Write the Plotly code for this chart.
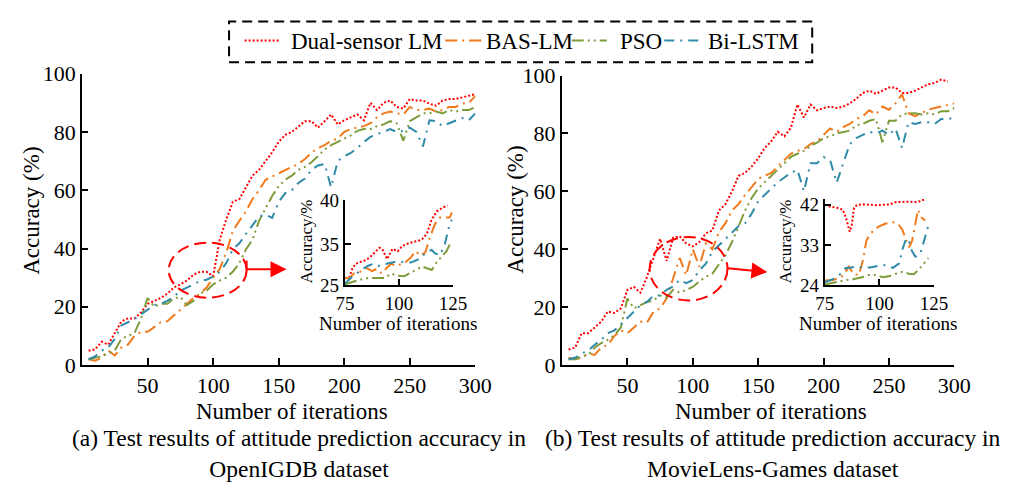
import plotly.graph_objects as go

# ---------------- data ----------------
iters = list(range(5, 301, 5))

# (a) OpenIGDB main panel
a_dual = [4.9, 5.4, 8, 7, 11, 15, 16, 16, 18, 21,
          22, 23, 24.5, 26.6, 27.7, 29, 31, 32, 32, 30.5,
          43, 50, 56, 57, 61, 65, 67, 70, 73, 76.6,
          79, 80, 82, 83.7, 83.7, 81.5, 83.7, 86, 82.6, 84,
          85, 86, 84, 90, 87.5, 90, 90.8, 88.6, 88, 91.3,
          90.8, 90.8, 89.7, 89, 90.8, 91.3, 91.3, 91.8, 92.4, 93]
a_bas = [2, 1.5, 2.5, 5, 3.3, 6, 7, 10, 11.4, 11.4,
         13, 14.7, 15, 17, 19, 21, 23, 24.5, 26.6, 30,
         33, 38.6, 46, 49.5, 52.7, 57, 60, 63.6, 64.7, 66,
         67, 68, 69, 70.7, 72.8, 74.5, 75.5, 77, 77.7, 80,
         81, 81.5, 82, 83, 85, 86.4, 87, 86.4, 86, 88.6,
         87.5, 87.5, 88, 87, 87.5, 88.6, 88.6, 89.7, 90, 92.4]
a_pso = [2, 2.5, 3, 4, 5, 9, 10, 11, 16, 23,
         20, 21, 21, 22.8, 23.4, 20.6, 22, 24.5, 25.5, 27.7,
         29, 30, 32, 35, 39.7, 43, 49.5, 53.8, 58, 61.4,
         63.6, 65, 67, 68, 69.6, 71.7, 74, 75.5, 76.6, 77.7,
         78.8, 80.4, 81, 81, 82, 82.6, 83.7, 83, 77, 83.7,
         85, 86.4, 86.4, 87, 86.4, 87.5, 87, 87.5, 87.5, 88.6]
a_lstm = [2, 3, 5, 6, 9, 13.6, 14.7, 15.8, 17.4, 19,
          20.6, 21, 22, 23.4, 25.5, 26.6, 27.7, 28.8, 29.3, 30.4,
          32, 35, 39.7, 41.8, 45, 48, 51, 51.6, 50.5, 56,
          59, 60, 62.5, 64, 67, 68.5, 69, 61, 70, 71.7,
          72.8, 74.5, 76.6, 78.3, 79.3, 80, 81, 80, 80.4, 81.5,
          80, 75, 84, 83.7, 82, 83, 84, 84.8, 84, 86.4]

# (b) MovieLens-Games main panel
b_dual = [5.4, 6, 11, 11, 13, 15, 18.5, 18, 19.6, 26,
          27, 25, 30.5, 37, 43.6, 36, 44, 44.5, 42, 41,
          42.5, 45.5, 46.5, 53.4, 55.6, 60, 65.4, 66.4, 68.6, 71.4,
          75, 77.3, 80.6, 79, 82, 90, 85.5, 90, 88, 88.8,
          89.3, 88.8, 89.3, 90.4, 92, 94, 94.8, 93.7, 94.8, 95.9,
          95.9, 94, 94, 94.8, 95.9, 97, 97.5, 98.6, 98, None]
b_bas = [2.5, 2, 2.5, 4, 3.5, 6, 7, 10, 12, 11,
         13, 15, 14.7, 18.5, 19.6, 23, 30, 37, 31, 40,
         34, 42, 40, 46, 49, 53.4, 55.6, 58.8, 61.5, 64.3,
         65.4, 66.4, 68.6, 70.8, 73, 74, 74.6, 76.3, 77.3, 79.5,
         81.7, 80.6, 82.2, 83.3, 85, 86, 88, 86.6, 89.3, 88.2,
         90.4, 93.5, 87, 86, 87, 88.2, 88.8, 89.3, 90, 90.4]
b_pso = [2, 2, 3, 3.5, 6, 7.6, 8.7, 10.3, 13, 23,
         19.6, 20.7, 21.8, 22.3, 24, 23.4, 26, 25, 26, 27,
         28.9, 30.5, 31.6, 35, 38, 42.5, 48, 53.4, 57.7, 61,
         63.2, 65.4, 67.5, 69.7, 71.9, 73, 74, 75.7, 76.8, 78.4,
         79, 80, 80.6, 81, 82.8, 83.3, 84.4, 85, 77, 84.4,
         84.4, 86.6, 87, 87, 86.6, 87, 86.6, 87.7, 87.7, 88.8]
b_lstm = [2, 2.5, 4, 5, 7, 8.7, 11, 12, 14, 16.3,
          18.5, 20.7, 21.8, 24, 24, 26, 27.2, 29.4, 28.3, 29.4,
          32.7, 35, 39.2, 41.4, 43.6, 45.8, 48, 49, 52.3, 56.6,
          58.8, 61, 63.2, 64.8, 66.4, 67.5, 60, 69.7, 69.7, 71.9,
          70.8, 63, 69.7, 76.3, 78.4, 79.5, 80.6, 80, 81, 79.5,
          81.7, 75, 83.9, 83.3, 83.9, 83.9, 83.3, 85, 85, 85.5]

# (a) inset, iterations 75-125
ia_dual_x = [75, 77, 78.5, 80, 82, 84.5, 86.5, 89, 91, 92.5, 94.5, 97, 99.5,
             101.5, 104.5, 107.5, 110.5, 113, 115, 117.5, 120.5, 122.5]
ia_dual_y = [26.3, 26.4, 28, 28.8, 29.1, 29.4, 29.9, 30.9, 31.6, 31.2, 29.6, 31.4,
             31.0, 31.9, 32.4, 32.7, 33.0, 34.1, 36.4, 38.0, 38.7, 39.0]
ia_bas_x = [75, 77, 79.2, 82.2, 85.2, 87.5, 89.7, 92, 94.2, 96.5, 98.7, 101, 103.2,
            105.5, 107.7, 110, 112.2, 114.5, 116.7, 119, 121.2, 123.5, 124.5]
ia_bas_y = [26.3, 26.2, 27.1, 27.4, 28.0, 27.5, 27.9, 27.1, 28.0, 28.8, 28.4, 28.8,
            29.1, 29.9, 31.0, 30.2, 30.8, 33.6, 35.8, 36.9, 36.9, 36.9, 37.8]
ia_pso_x = [75, 78.5, 82.2, 86, 89.7, 93.5, 96.5, 98.7, 102.5, 106.2, 110.7, 113,
            115.2, 117.5, 122, 124.2]
ia_pso_y = [25.2, 25.6, 26.0, 26.3, 26.3, 26.3, 27.1, 26.7, 26.6, 27.4, 28.3, 28.0,
            27.7, 29.1, 31.0, 32.7]
ia_lstm_x = [75, 77.7, 81.5, 85.5, 88.2, 90.5, 94.2, 98, 101.7, 105.5, 109.2, 113,
             115.2, 116.7, 119, 121.2, 123.5, 124.5]
ia_lstm_y = [25.3, 26.3, 27.4, 28.4, 28.8, 28.4, 28.8, 29.1, 29.1, 29.0, 29.6, 30.9,
             31.2, 30.6, 30.3, 32.2, 35.8, 36.5]

# (b) inset, iterations 75-125
ib_dual_x = [75, 77.2, 80.9, 83.2, 84.6, 85.7, 86.4, 87.3, 88.4, 89.8, 92.8, 95.8,
             98.7, 101.7, 104.7, 107.6, 110.6, 113.6, 116.5, 118.8, 121]
ib_dual_y = [42.0, 41.6, 41.3, 40.9, 39.2, 37.1, 36.0, 37.4, 41.3, 42.0, 42.1, 42.0,
             41.9, 42.0, 42.1, 42.6, 42.7, 42.7, 42.6, 42.8, 43.3]
ib_bas_x = [75, 78.7, 82.4, 84.2, 86.1, 88.1, 90.6, 92.5, 94.0, 95.5, 97.6, 99.9,
            102.9, 106.2, 108.8, 110.6, 112.1, 113.6, 115.0, 116.5, 117.7, 119.2, 121.0]
ib_bas_y = [25.1, 25.2, 25.8, 26.8, 28.2, 26.5, 26.3, 29.7, 33.9, 35.3, 36.4, 37.2,
            37.8, 38.1, 37.6, 36.4, 34.2, 32.5, 33.9, 37.8, 40.9, 39.2, 38.5]
ib_pso_x = [75, 79.5, 83.9, 88.4, 92.1, 95.0, 98.0, 101.7, 104.7, 107.6, 110.6,
            113.6, 115.8, 118.0, 121.0, 122.5]
ib_pso_y = [24.2, 24.7, 25.1, 25.4, 25.8, 26.3, 26.3, 25.8, 26.1, 26.6, 27.0, 26.6,
            26.5, 27.5, 29.3, 30.1]
ib_lstm_x = [75, 78.7, 82.4, 84.6, 86.9, 89.8, 92.8, 95.8, 101.7, 104.0, 106.2,
             109.1, 110.6, 112.1, 113.3, 114.8, 116.5, 118.8, 120.3, 122.5]
ib_lstm_y = [24.7, 25.4, 26.6, 27.9, 28.0, 28.2, 27.9, 28.0, 28.6, 28.2, 27.9, 28.9,
             32.1, 34.2, 34.4, 31.8, 30.4, 31.1, 33.9, 37.4]

series_names = ["Dual-sensor LM", "BAS-LM", "PSO", "Bi-LSTM"]
main_ticks_x = [50, 100, 150, 200, 250, 300]
main_ticks_y = [0, 20, 40, 60, 80, 100]
inset_ticks_x = [75, 100, 125]
ia_tick_pos = [25, 32.2, 40]
ia_tick_text = ["25", "35", "40"]
ib_ticks_y = [24, 33, 42]

# ---------------- styling ----------------
W, H = 1021, 491
FONT = "Liberation Serif, Times New Roman, serif"
colors = ["#FF0000", "#F07A1C", "#7E9C3A", "#2F8BA8"]
dashes = ["2px,2px", "12px,5px,2px,5px", "12px,4px,2px,4px,2px,4px", "10px,6px,2px,6px"]


def fx(p):
    return p / W


def fy(p):
    return 1 - p / H


fig = go.Figure()

panels = [
    ("x", "y", iters, [a_dual, a_bas, a_pso, a_lstm]),
    ("x2", "y2", iters, [b_dual, b_bas, b_pso, b_lstm]),
]
for xa, ya, xs, ys_list in panels:
    for i, ys in enumerate(ys_list):
        fig.add_trace(go.Scatter(x=xs, y=ys, mode="lines", name=series_names[i],
                                 line=dict(color=colors[i], width=2, dash=dashes[i]),
                                 showlegend=False, xaxis=xa, yaxis=ya))

insets = [
    ("x3", "y3", [(ia_dual_x, ia_dual_y), (ia_bas_x, ia_bas_y), (ia_pso_x, ia_pso_y), (ia_lstm_x, ia_lstm_y)]),
    ("x4", "y4", [(ib_dual_x, ib_dual_y), (ib_bas_x, ib_bas_y), (ib_pso_x, ib_pso_y), (ib_lstm_x, ib_lstm_y)]),
]
for xa, ya, pairs in insets:
    for i, (xs, ys) in enumerate(pairs):
        fig.add_trace(go.Scatter(x=xs, y=ys, mode="lines", name=series_names[i],
                                 line=dict(color=colors[i], width=2, dash=dashes[i]),
                                 showlegend=False, xaxis=xa, yaxis=ya))

axis_common = dict(showline=True, linecolor="black", linewidth=2, showgrid=False,
                   zeroline=False, ticks="inside", tickcolor="black", tickwidth=2,
                   fixedrange=True)

fig.update_layout(
    width=W, height=H,
    margin=dict(l=0, r=0, t=0, b=0),
    paper_bgcolor="white", plot_bgcolor="rgba(0,0,0,0)",
    font=dict(family=FONT, color="black"),
    showlegend=False,
    xaxis=dict(domain=[fx(74), fx(478)], range=[0, 300], tickvals=main_ticks_x,
               ticklen=7, tickfont=dict(size=22), anchor="y", **axis_common),
    yaxis=dict(domain=[fy(372), fy(65)], range=[0, 100], tickvals=main_ticks_y,
               ticklen=6, tickfont=dict(size=22), anchor="x", **axis_common),
    xaxis2=dict(domain=[fx(567), fx(970)], range=[0, 300], tickvals=main_ticks_x,
                ticklen=7, tickfont=dict(size=22), anchor="y2", **axis_common),
    yaxis2=dict(domain=[fy(372), fy(67)], range=[0, 100], tickvals=main_ticks_y,
                ticklen=6, tickfont=dict(size=22), anchor="x2", **axis_common),
    xaxis3=dict(domain=[fx(344), fx(455)], range=[75, 125], tickvals=inset_ticks_x,
                ticklen=6, tickfont=dict(size=19), anchor="y3", **axis_common),
    yaxis3=dict(domain=[fy(288), fy(198)], range=[25, 40], tickvals=ia_tick_pos,
                ticktext=ia_tick_text, ticklen=6, tickfont=dict(size=19), anchor="x3",
                **axis_common),
    xaxis4=dict(domain=[fx(837), fx(949)], range=[75, 125], tickvals=inset_ticks_x,
                ticklen=6, tickfont=dict(size=19), anchor="y4", **axis_common),
    yaxis4=dict(domain=[fy(288), fy(197)], range=[24, 43.3], tickvals=ib_ticks_y,
                ticklen=6, tickfont=dict(size=19), anchor="x4", **axis_common),
)

annotations = []


def text(x, y, s, size, angle=0, xanchor="center", yanchor="middle", align="center"):
    annotations.append(dict(x=fx(x), y=fy(y), xref="paper", yref="paper", text=s,
                            showarrow=False, textangle=angle, xanchor=xanchor,
                            yanchor=yanchor, align=align,
                            font=dict(family=FONT, size=size, color="black")))


# axis titles
text(22, 209, "Accuracy (%)", 23, angle=-90)
text(519, 208, "Accuracy (%)", 23, angle=-90)
text(290, 421, "Number of iterations", 23)
text(782, 421, "Number of iterations", 23)
# inset titles
text(305, 242, "Accuracy/%", 17, angle=-90)
text(399, 328, "Number of iterations", 19)
text(797, 242, "Accuracy/%", 17, angle=-90)
text(892, 328, "Number of iterations", 19)
# captions
text(297, 465, "(a) Test results of attitude prediction accuracy in<br>OpenIGDB dataset", 23.5)
text(784, 465, "(b) Test results of attitude prediction accuracy in<br>MovieLens-Games dataset", 23.5)

# legend texts
legend_text_x = [287, 487, 625, 715]
legend_line_x = [(241, 278), (447, 485), (577, 613), (672, 712)]
for i, name in enumerate(series_names):
    text(legend_text_x[i], 31, name, 23, xanchor="left")

# arrows from the zoom ellipses to the insets
annotations.append(dict(x=fx(284), y=fy(271), xref="paper", yref="paper", ax=-41, ay=0,
                        text="", showarrow=True, arrowhead=2, arrowsize=1.6,
                        arrowwidth=2, arrowcolor="red"))
annotations.append(dict(x=fx(778), y=fy(274), xref="paper", yref="paper", ax=-41, ay=-4,
                        text="", showarrow=True, arrowhead=2, arrowsize=1.6,
                        arrowwidth=2, arrowcolor="red"))

shapes = []
# legend box
shapes.append(dict(type="rect", xref="paper", yref="paper", x0=fx(225), x1=fx(824),
                   y0=fy(53), y1=fy(10), line=dict(color="black", width=2, dash="10px,6px")))
for i, (a, b) in enumerate(legend_line_x):
    shapes.append(dict(type="line", xref="paper", yref="paper", x0=fx(a), x1=fx(b),
                       y0=fy(30), y1=fy(30),
                       line=dict(color=colors[i], width=2, dash=dashes[i])))
# zoom ellipses
shapes.append(dict(type="circle", xref="paper", yref="paper", x0=fx(163), x1=fx(243),
                   y0=fy(301), y1=fy(243), line=dict(color="red", width=2, dash="12px,6px")))
shapes.append(dict(type="circle", xref="paper", yref="paper", x0=fx(657), x1=fx(737),
                   y0=fy(304), y1=fy(237), line=dict(color="red", width=2, dash="12px,6px")))
shapes.append(dict(type="line", xref="paper", yref="paper", x0=fx(243), x1=fx(243),
                   y0=fy(262), y1=fy(271), line=dict(color="red", width=2)))

fig.update_layout(annotations=annotations, shapes=shapes)

fig.write_html("out.html", config={"displayModeBar": False},
               post_script="document.body.style.margin='0';")
